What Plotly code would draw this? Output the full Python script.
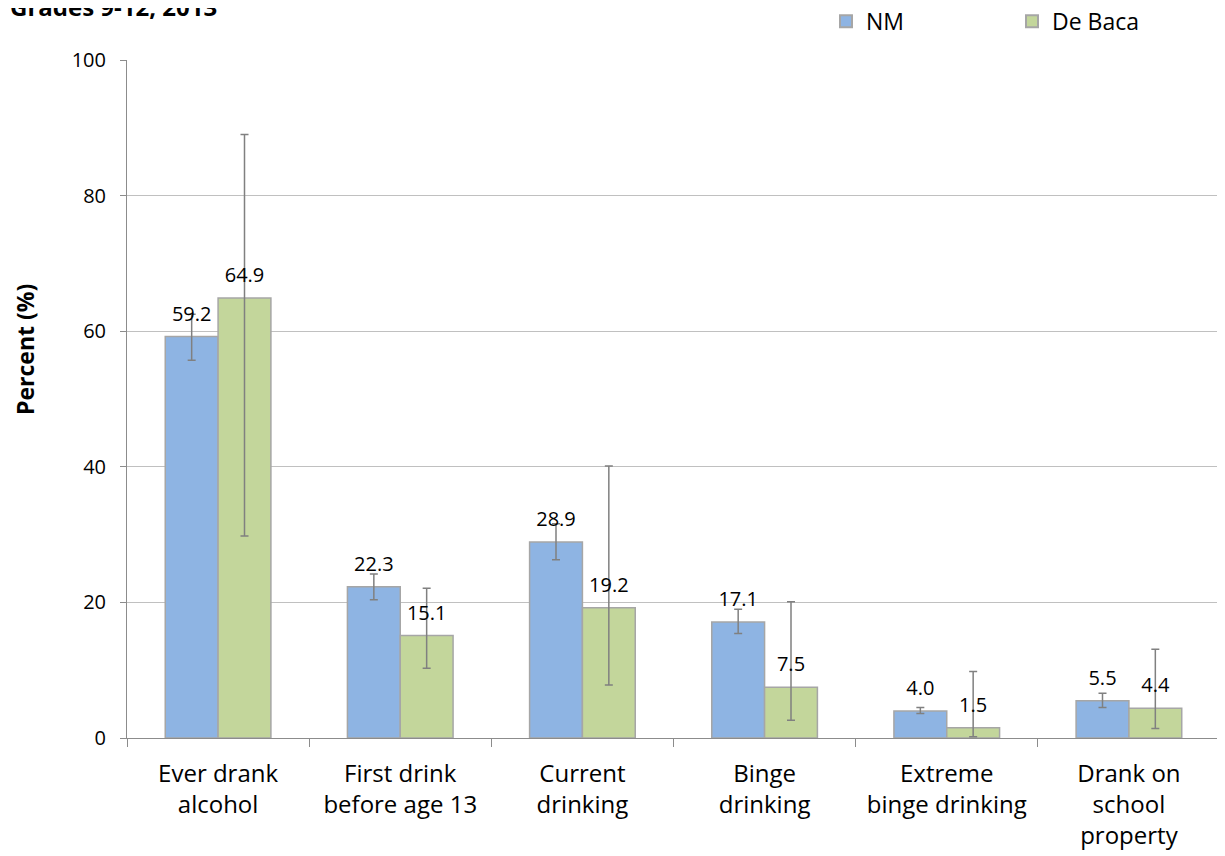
import plotly.graph_objects as go

categories = ["Ever drank<br>alcohol", "First drink<br>before age 13", "Current<br>drinking",
              "Binge<br>drinking", "Extreme<br>binge drinking", "Drank on<br>school<br>property"]
nm_values = [59.2, 22.3, 28.9, 17.1, 4.0, 5.5]
nm_upper = [62.5, 24.2, 31.6, 19.0, 4.5, 6.6]
nm_lower = [55.7, 20.4, 26.3, 15.4, 3.6, 4.5]
db_values = [64.9, 15.1, 19.2, 7.5, 1.5, 4.4]
db_upper = [89.0, 22.1, 40.1, 20.1, 9.8, 13.1]
db_lower = [29.8, 10.3, 7.8, 2.6, 0.2, 1.4]
y_ticks = [0, 20, 40, 60, 80, 100]

FONT = "Open Sans"
err_color = "#808080"
BARGAP = 0.42

def err(vals, up, lo):
    return dict(type="data", symmetric=False,
                array=[u - v for u, v in zip(up, vals)],
                arrayminus=[v - l for v, l in zip(vals, lo)],
                color=err_color, thickness=1.5, width=4)

fig = go.Figure()
for name, vals, up, lo, col in [("NM", nm_values, nm_upper, nm_lower, "#8EB4E3"),
                                ("De Baca", db_values, db_upper, db_lower, "#C3D69B")]:
    fig.add_trace(go.Bar(
        name=name, x=categories, y=vals,
        marker=dict(color=col, line=dict(color="#A6A6A6", width=1.5)),
        error_y=err(vals, up, lo),
    ))
for name, vals in [("NM", nm_values), ("De Baca", db_values)]:
    fig.add_trace(go.Scatter(
        x=categories, y=vals, mode="markers+text", showlegend=False, hoverinfo="skip",
        marker=dict(size=16, opacity=0),
        text=[f"{v:.1f}" for v in vals], textposition="top center",
        textfont=dict(family=FONT, size=20, color="black"), cliponaxis=False,
    ))

L, T, PW, PH = 119, 52, 1093, 678
fig.update_layout(
    width=1217, height=848,
    margin=dict(l=L, r=5, t=T, b=118, autoexpand=False),
    paper_bgcolor="white", plot_bgcolor="white",
    barmode="group", bargap=BARGAP, bargroupgap=0,
    scattermode="group", scattergap=BARGAP,
    font=dict(family=FONT, size=20, color="black"),
    legend=dict(orientation="h", x=0.6395, y=1.057, xanchor="left", yanchor="middle",
                entrywidth=141, entrywidthmode="pixels", borderwidth=0,
                font=dict(family=FONT, size=23), itemsizing="constant"),
    annotations=[
        dict(text="<b>Grades 9-12, 2013</b>", xref="paper", yref="paper",
             x=-L/PW, y=1 + 54/PH, xanchor="left", yanchor="middle",
             showarrow=False, font=dict(family=FONT, size=24)),
        dict(text="<b>Percent (%)</b>", xref="paper", yref="paper", textangle=-90,
             x=(17 - L)/PW, y=1 - 290/PH, xanchor="center", yanchor="middle",
             showarrow=False, font=dict(family=FONT, size=23)),
    ],
)
fig.update_xaxes(showline=True, linecolor="#8C8C8C", linewidth=1,
                 ticks="outside", tickson="boundaries", ticklen=8, tickcolor="#8C8C8C",
                 ticklabelstandoff=14,
                 tickfont=dict(family=FONT, size=24), showgrid=False)
fig.update_yaxes(range=[0, 100], tickvals=y_ticks, showline=True, linecolor="#8C8C8C",
                 linewidth=1, ticks="outside", ticklen=6, tickcolor="#8C8C8C",
                 ticklabelstandoff=10,
                 gridcolor="#C0C0C0", gridwidth=1, zeroline=False,
                 tickfont=dict(family=FONT, size=20))
fig.write_html("out.html")
